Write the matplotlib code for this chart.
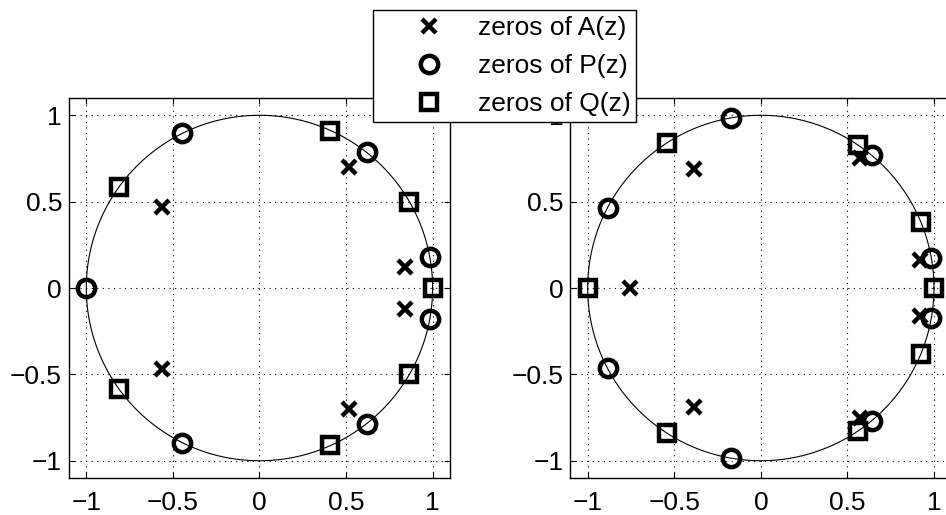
"""Zeros of A(z), P(z) and Q(z) on the unit circle, two examples"""

import numpy as np
import matplotlib.pyplot as plt

plt.rcParams['font.family'] = ['Liberation Sans', 'DejaVu Sans']

# left example: order 6
a_left = [0.52+0.70j, -0.56+0.47j, 0.84+0.12j]
p_left_real = [-1.0]
p_left = [-0.445+0.895j, 0.62+0.785j, 0.984+0.179j]
q_left_real = [1.0]
q_left = [0.41+0.91j, -0.81+0.585j, 0.865+0.50j]

# right example: order 7
a_right_real = [-0.755]
a_right = [-0.385+0.69j, 0.575+0.75j, 0.92+0.16j]
p_right_real = []
p_right = [-0.175+0.985j, -0.885+0.465j, 0.64+0.77j, 0.98+0.175j]
q_right_real = [-1.0, 1.0]
q_right = [-0.54+0.84j, 0.56+0.83j, 0.925+0.38j]

ticks = [-1, -0.5, 0, 0.5, 1]
tick_labels = ['\u22121', '\u22120.5', '0', '0.5', '1']
labels = ['zeros of A(z)', 'zeros of P(z)', 'zeros of Q(z)']


def full_set(real, pairs):
    pairs = np.array(pairs, dtype=complex)
    return np.concatenate([np.array(real, dtype=complex), pairs, pairs.conj()])


fig = plt.figure(figsize=(9.46, 5.15), dpi=100)
ax1 = fig.add_axes([0.0729, 0.0718, 0.4027, 0.7379])
ax2 = fig.add_axes([0.6029, 0.0718, 0.4027, 0.7379])

theta = np.linspace(0, 2*np.pi, 400)
fs = 19

sets = [(ax1, full_set([], a_left), full_set(p_left_real, p_left), full_set(q_left_real, q_left)),
        (ax2, full_set(a_right_real, a_right), full_set(p_right_real, p_right), full_set(q_right_real, q_right))]

handles = None
for ax, za, zp, zq in sets:
    ax.plot(np.cos(theta), np.sin(theta), color='k', lw=0.8)
    h1, = ax.plot(za.real, za.imag, 'x', color='k', ms=10, mew=3.2, ls='none')
    h2, = ax.plot(zp.real, zp.imag, 'o', mfc='none', mec='k', ms=12.5, mew=3.2, ls='none')
    h3, = ax.plot(zq.real, zq.imag, 's', mfc='none', mec='k', ms=11, mew=3.2, ls='none')
    handles = [h1, h2, h3]
    ax.set_xlim(-1.1, 1.1)
    ax.set_ylim(-1.1, 1.1)
    ax.set_xticks(ticks)
    ax.set_xticklabels(tick_labels)
    ax.set_yticks(ticks)
    ax.set_yticklabels(tick_labels)
    ax.grid(True, color='k', ls=(0, (1, 4)), lw=0.8)
    ax.tick_params(direction='in', length=4, width=0.8, top=True, right=True,
                   labelsize=fs, pad=5)
    ax.tick_params(axis='x', pad=9.5)
    for s in ax.spines.values():
        s.set_linewidth(1.0)

# right panel runs off the figure edge, its right border is not seen
ax2.spines['right'].set_visible(False)
ax2.tick_params(right=False)

leg = fig.legend(handles, labels, loc='upper left', bbox_to_anchor=(0.3943, 0.981),
                 borderaxespad=0, fontsize=fs, frameon=True, fancybox=False,
                 edgecolor='k', framealpha=1, numpoints=1, handlelength=3.8,
                 handletextpad=-0.07, labelspacing=0.53, borderpad=0.23)
leg.get_frame().set_linewidth(1.0)
leg.set_zorder(10)

fig.savefig('out.png', dpi=100)
